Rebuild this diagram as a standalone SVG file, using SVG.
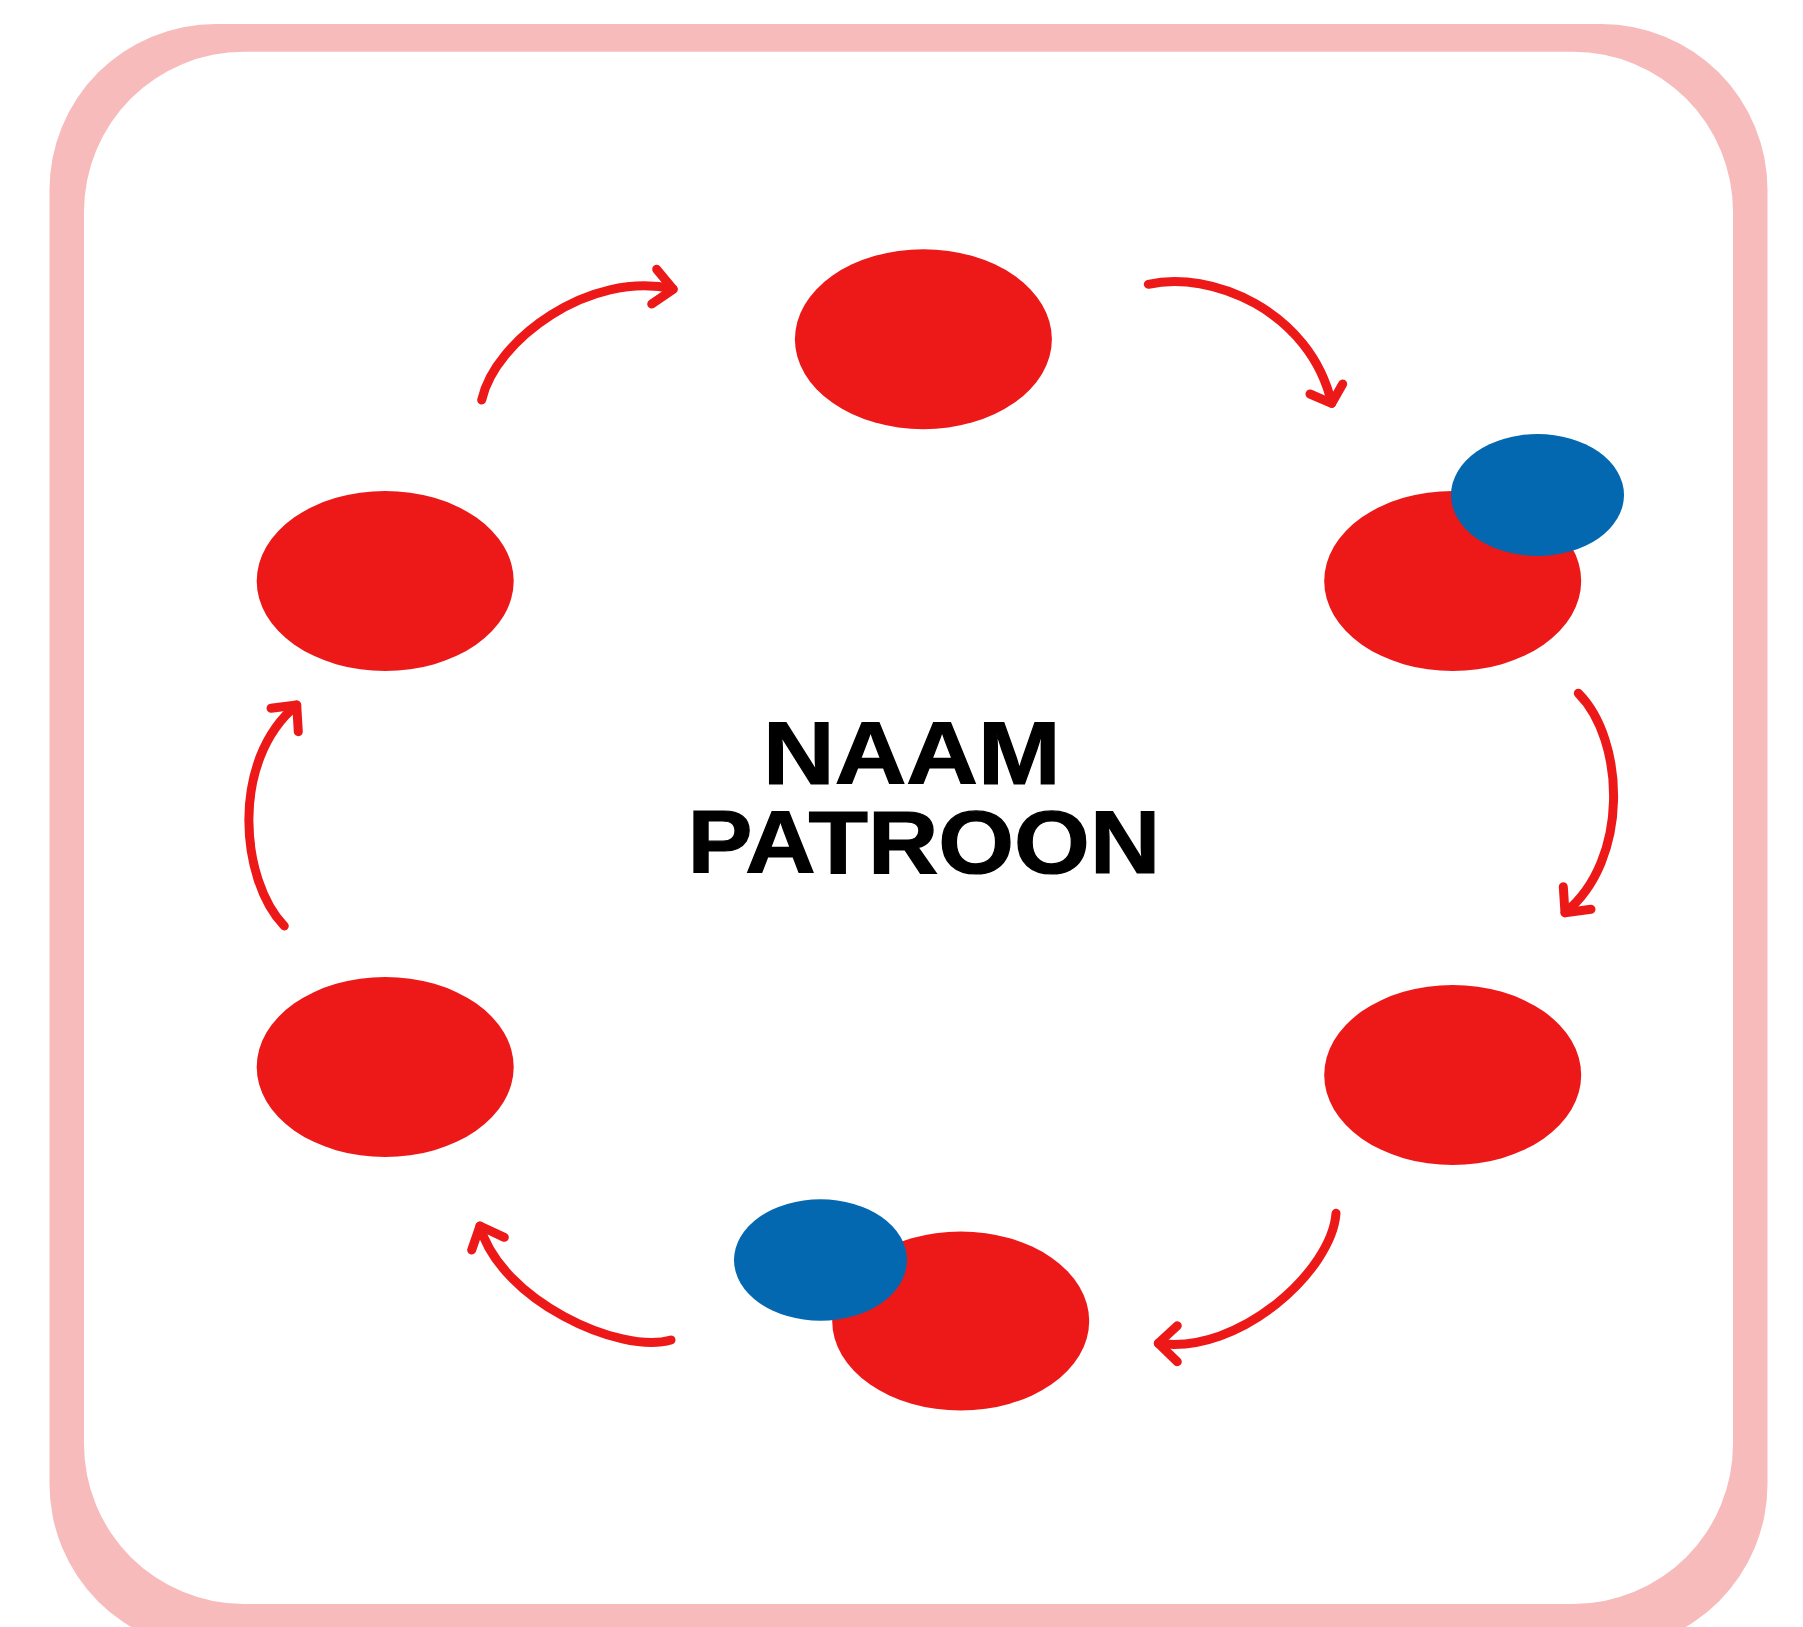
<svg xmlns="http://www.w3.org/2000/svg" width="1803" height="1627" viewBox="0 0 1803 1627">
  <style>
    .red { fill: #ED1919; }
    .blue { fill: #0368B0; }
    .arrow { fill: none; stroke: #ED1919; stroke-width: 9; stroke-linecap: round; stroke-linejoin: round; }
    .title { font-family: "Liberation Sans", Arial, sans-serif; font-weight: bold; font-size: 89px; fill: #000000; stroke: #000000; stroke-width: 1.2; }
  </style>
  <defs>
    <clipPath id="clipBlue">
      <rect x="1440" y="420" width="1183" height="150"/>
    </clipPath>
  </defs>
  <rect width="1803" height="1627" fill="#FFFFFF"/>
  <g id="frame">
    <rect x="49.5" y="24" width="1718" height="1626" rx="166" ry="166" fill="#F8BBBB"/>
    <rect x="84" y="51.7" width="1649" height="1552.3" rx="160" ry="160" fill="#FFFFFF"/>
  </g>
  <g id="node-top">
    <ellipse class="red" cx="923.4" cy="339.2" rx="128.5" ry="90"/>
  </g>
  <g id="node-right-upper">
    <ellipse class="red" cx="1452.7" cy="581" rx="128.5" ry="90"/>
    <ellipse class="blue" cx="1537.5" cy="495" rx="86.5" ry="61" clip-path="url(#clipBlue)"/>
  </g>
  <g id="node-right-lower">
    <ellipse class="red" cx="1452.7" cy="1075" rx="128.5" ry="90"/>
  </g>
  <g id="node-bottom">
    <ellipse class="red" cx="960.7" cy="1321" rx="128.5" ry="89.5"/>
    <ellipse class="blue" cx="820.5" cy="1260" rx="86.5" ry="60.7"/>
  </g>
  <g id="node-left-lower">
    <ellipse class="red" cx="385.2" cy="1067" rx="128.5" ry="90"/>
  </g>
  <g id="node-left-upper">
    <ellipse class="red" cx="385.2" cy="581" rx="128.5" ry="90"/>
  </g>
  <g id="connectors">
    <path class="arrow" d="M481.7,400 C495,340 590,270 673,289"/>
    <path class="arrow" d="M656.7,269.3 L673.3,289.3 L651.7,304"/>
    <path class="arrow" d="M1148.3,284.3 C1210,270 1310,310 1331.7,403.3"/>
    <path class="arrow" d="M1310,394 L1331.7,403.3 L1342.7,384"/>
    <path class="arrow" d="M1578.3,693.3 C1625,740 1630,860 1565,912.7"/>
    <path class="arrow" d="M1563.3,886.7 L1565,912.7 L1591,909.3"/>
    <path class="arrow" d="M1336,1213.3 C1332,1270 1240,1355 1158.3,1343.3"/>
    <path class="arrow" d="M1177.3,1325.7 L1158.3,1343.3 L1177.3,1361.7"/>
    <path class="arrow" d="M671,1340 C620,1355 500,1300 480,1226"/>
    <path class="arrow" d="M504.3,1237.3 L480,1226 L471.7,1250"/>
    <path class="arrow" d="M284.3,926 C240,880 230,760 296.7,705"/>
    <path class="arrow" d="M271,708.3 L296.7,705 L298.3,731.7"/>
  </g>
  <g id="label">
    <text class="title" transform="translate(763,783.7) scale(1.115,1)" x="0" y="0">NAAM</text>
    <text class="title" transform="translate(687.5,873) scale(1.095,1)" x="0" y="0">PATROON</text>
  </g>
</svg>
